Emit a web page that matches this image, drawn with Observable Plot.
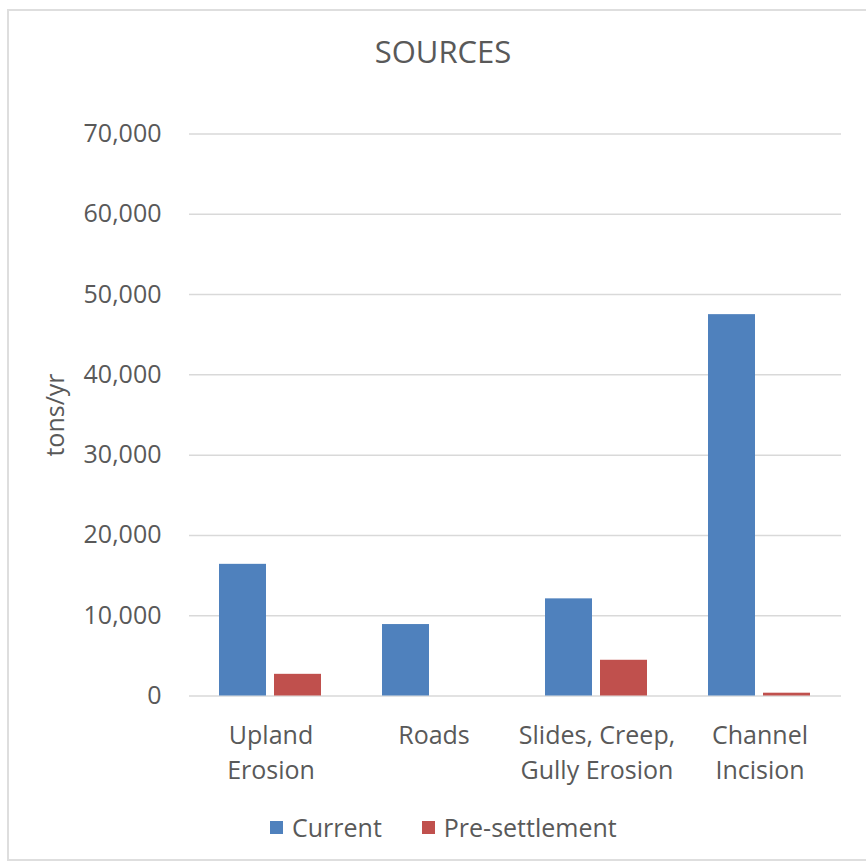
<!DOCTYPE html>
<html>
<head>
<meta charset="utf-8">
<script src="https://cdn.jsdelivr.net/npm/d3@7"></script>
<script src="https://cdn.jsdelivr.net/npm/@observablehq/plot@0.6"></script>
<style>
  html, body { margin: 0; padding: 0; background: #fff; overflow: hidden; }
  #chart { position: relative; width: 866px; height: 866px; overflow: hidden; font-family: "Open Sans", sans-serif; color: #595959; }
  #frame { position: absolute; left: 7px; top: 9px; width: 940px; height: 852px; border: 2px solid #dedede; border-right: none; box-sizing: border-box; }
  #title { position: absolute; left: 0; width: 886px; top: 36px; text-align: center; font-size: 31px; line-height: 1; }
  #plot { position: absolute; left: 0; top: 0; }
  #legend { position: absolute; left: 270px; top: 815px; display: flex; align-items: center; font-size: 25px; line-height: 1; }
  .item { display: flex; align-items: center; margin-right: 40px; }
  .swatch { width: 13px; height: 13px; margin-right: 9px; }
</style>
</head>
<body>
<div id="chart">
  <div id="frame"></div>
  <div id="plot"></div>
  <div id="title">SOURCES</div>
  <div id="legend"></div>
</div>
<script>
// Sediment sources, tons per year
const categories = ["Upland\nErosion", "Roads", "Slides, Creep,\nGully Erosion", "Channel\nIncision"];
const series = ["Current", "Pre-settlement"];
const currentValues = [16400, 8900, 12100, 47500];
const preSettlementValues = [2700, 0, 4450, 350];
const yTicks = [0, 10000, 20000, 30000, 40000, 50000, 60000, 70000];
const seriesColors = ["#4f81bd", "#c0504d"];

const rows = categories.flatMap((c, i) => [
  {source: c, series: series[0], value: currentValues[i]},
  {source: c, series: series[1], value: preSettlementValues[i]}
]);

const chart = Plot.plot({
  width: 866,
  height: 866,
  marginLeft: 188,
  marginRight: 24,
  marginTop: 133.5,
  marginBottom: 170.5,
  style: {fontFamily: "Open Sans, sans-serif", fontSize: "25px", color: "#595959", background: "transparent", overflow: "visible"},
  fx: {domain: categories, padding: 0},
  x: {domain: series, paddingInner: 0.143, paddingOuter: 0.53, axis: null},
  y: {domain: [0, 70000]},
  color: {domain: series, range: seriesColors},
  marks: [
    Plot.gridY(yTicks, {stroke: "#d9d9d9", strokeOpacity: 1, strokeWidth: 1.5}),
    Plot.barY(rows, {fx: "source", x: "series", y: "value", fill: "series"}),
    Plot.axisY(yTicks, {
      tickSize: 0, tickPadding: 28, tickFormat: d3.format(","),
      label: "tons/yr", labelAnchor: "center", labelOffset: 143, labelArrow: "none"
    }),
    Plot.axisFx({anchor: "bottom", tickSize: 0, tickPadding: 23, lineHeight: 1.4, label: null})
  ]
});
document.getElementById("plot").appendChild(chart);

// Legend drawn from the same series and colours
const legend = document.getElementById("legend");
series.forEach((s, i) => {
  const item = document.createElement("div");
  item.className = "item";
  const sw = document.createElement("div");
  sw.className = "swatch";
  sw.style.background = seriesColors[i];
  const label = document.createElement("span");
  label.textContent = s;
  item.appendChild(sw);
  item.appendChild(label);
  legend.appendChild(item);
});
</script>
</body>
</html>
